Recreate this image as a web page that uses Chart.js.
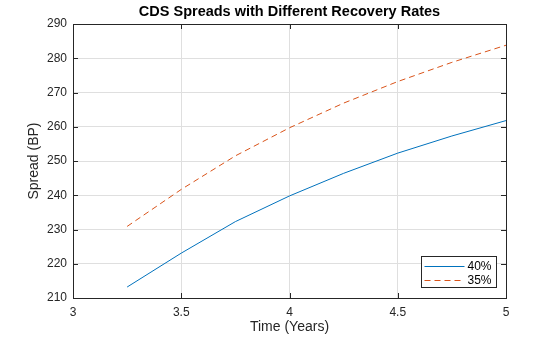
<!DOCTYPE html>
<html>
<head>
<meta charset="utf-8">
<title>CDS Spreads</title>
<script src="https://cdn.jsdelivr.net/npm/chart.js@4.4.0/dist/chart.umd.min.js"></script>
<style>
    html, body { margin: 0; padding: 0; background: #ffffff; }
    #wrap { width: 560px; height: 337px; }
</style>
</head>
<body>
<div id="wrap"><canvas id="cdsChart" width="560" height="337"></canvas></div>
<script>
// Data
const years = [3.25, 3.5, 3.75, 4, 4.25, 4.5, 4.75, 5];
const spread40 = [213.2, 223.1, 232.3, 239.8, 246.4, 252.3, 257.3, 261.8];
const spread35 = [230.9, 241.7, 251.5, 259.7, 266.9, 273.2, 278.8, 283.8];
const seriesLabels = ['40%', '35%'];
const xTicks = [3, 3.5, 4, 4.5, 5];
const yTicks = [210, 220, 230, 240, 250, 260, 270, 280, 290];

const FONT = "'Liberation Sans', Arial, Helvetica, sans-serif";
const AXIS_COLOR = '#262626';
const GRID_COLOR = '#dfdfdf';

function toPoints(xs, ys) {
    return xs.map((x, i) => ({ x: x, y: ys[i] }));
}

// MATLAB-like box, inward ticks and legend inside the axes
const boxPlugin = {
    id: 'boxPlugin',
    afterDraw(chart) {
        const ctx = chart.ctx;
        const a = chart.chartArea;
        const xs = chart.scales.x;
        const ys = chart.scales.y;
        const tl = 5;

        ctx.save();
        ctx.strokeStyle = AXIS_COLOR;
        ctx.lineWidth = 1;
        ctx.strokeRect(Math.round(a.left) + 0.5, Math.round(a.top) + 0.5,
            Math.round(a.right - a.left), Math.round(a.bottom - a.top));

        ctx.beginPath();
        xTicks.forEach(v => {
            const px = Math.round(xs.getPixelForValue(v)) + 0.5;
            ctx.moveTo(px, a.bottom); ctx.lineTo(px, a.bottom - tl);
            ctx.moveTo(px, a.top); ctx.lineTo(px, a.top + tl);
        });
        yTicks.forEach(v => {
            const py = Math.round(ys.getPixelForValue(v)) + 0.5;
            ctx.moveTo(a.left, py); ctx.lineTo(a.left + tl, py);
            ctx.moveTo(a.right, py); ctx.lineTo(a.right - tl, py);
        });
        ctx.stroke();

        // legend
        const ds = chart.data.datasets;
        const bw = 75, bh = 31;
        const bx = Math.round(a.right - 10 - bw) + 0.5;
        const by = Math.round(a.bottom - 11 - bh) + 0.5;
        ctx.fillStyle = '#ffffff';
        ctx.fillRect(bx, by, bw, bh);
        ctx.strokeStyle = AXIS_COLOR;
        ctx.strokeRect(bx, by, bw, bh);
        ctx.font = '12px ' + FONT;
        ctx.textBaseline = 'middle';
        ctx.textAlign = 'left';
        ds.forEach((d, i) => {
            const cy = Math.round(by + 9 + i * 14) + 0.5;
            ctx.beginPath();
            ctx.strokeStyle = d.borderColor;
            ctx.lineWidth = 1;
            ctx.setLineDash(d.borderDash || []);
            ctx.moveTo(bx + 3, cy);
            ctx.lineTo(bx + 43, cy);
            ctx.stroke();
            ctx.setLineDash([]);
            ctx.fillStyle = '#000000';
            ctx.fillText(d.label, bx + 46, cy);
        });
        ctx.restore();
    }
};

const ctx = document.getElementById('cdsChart').getContext('2d');
const cdsChart = new Chart(ctx, {
    type: 'line',
    data: {
        datasets: [{
            label: seriesLabels[0],
            data: toPoints(years, spread40),
            borderColor: '#0072BD',
            borderWidth: 1,
            pointRadius: 0,
            tension: 0,
            fill: false
        }, {
            label: seriesLabels[1],
            data: toPoints(years, spread35),
            borderColor: '#D95319',
            borderWidth: 1,
            borderDash: [6, 4],
            pointRadius: 0,
            tension: 0,
            fill: false
        }]
    },
    options: {
        responsive: false,
        animation: false,
        devicePixelRatio: 1,
        layout: { padding: { left: 0, right: 54, top: 0, bottom: 0 } },
        plugins: {
            legend: { display: false },
            tooltip: { enabled: false },
            title: {
                display: true,
                fullSize: false,
                text: 'CDS Spreads with Different Recovery Rates',
                color: '#000000',
                font: { family: FONT, size: 14.5, weight: 'bold', lineHeight: 1.2 },
                padding: { top: 3.3, bottom: 3.3 }
            }
        },
        scales: {
            x: {
                type: 'linear',
                min: 3,
                max: 5,
                afterFit: s => { s.height = 39; },
                afterBuildTicks: s => { s.ticks = xTicks.map(v => ({ value: v })); },
                ticks: {
                    color: AXIS_COLOR,
                    font: { family: FONT, size: 12 },
                    padding: 7,
                    maxRotation: 0,
                    callback: v => String(v)
                },
                grid: { color: GRID_COLOR, drawTicks: false },
                border: { color: AXIS_COLOR },
                title: {
                    display: true,
                    text: 'Time (Years)',
                    color: AXIS_COLOR,
                    font: { family: FONT, size: 14, lineHeight: 1.2 },
                    padding: { top: 0, bottom: 1 }
                }
            },
            y: {
                type: 'linear',
                min: 210,
                max: 290,
                afterFit: s => { s.width = 73; },
                afterBuildTicks: s => { s.ticks = yTicks.map(v => ({ value: v })); },
                ticks: {
                    color: AXIS_COLOR,
                    font: { family: FONT, size: 12 },
                    padding: 6,
                    callback: v => String(v)
                },
                grid: { color: GRID_COLOR, drawTicks: false },
                border: { color: AXIS_COLOR },
                title: {
                    display: true,
                    text: 'Spread (BP)',
                    color: AXIS_COLOR,
                    font: { family: FONT, size: 14, lineHeight: 1.2 },
                    padding: { top: 26, bottom: 0 }
                }
            }
        }
    },
    plugins: [boxPlugin]
});
</script>
</body>
</html>
